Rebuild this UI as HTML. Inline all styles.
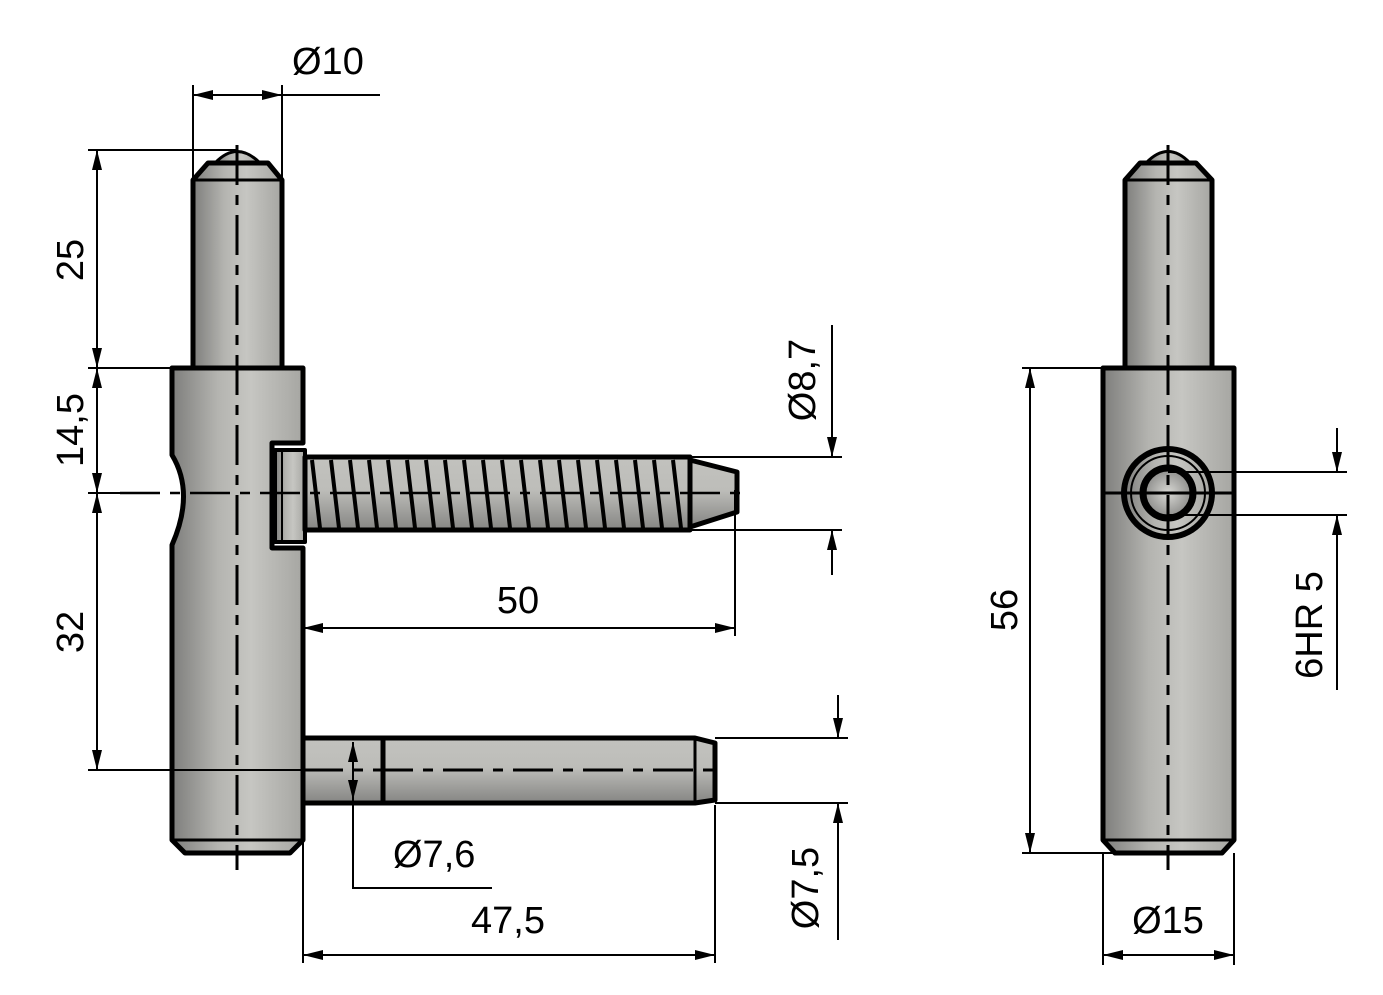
<!DOCTYPE html>
<html><head><meta charset="utf-8"><style>
html,body{margin:0;padding:0;background:#fff;}
svg{display:block;}
text{font-family:"Liberation Sans",sans-serif;font-size:38px;fill:#000;}
</style></head><body>
<svg width="1383" height="995" viewBox="0 0 1383 995" xmlns="http://www.w3.org/2000/svg">
<defs>
<linearGradient id="gv" x1="0" x2="1" y1="0" y2="0">
<stop offset="0" stop-color="#7e7e7c"/><stop offset="0.35" stop-color="#b4b4b0"/><stop offset="0.6" stop-color="#c6c6c2"/><stop offset="1" stop-color="#a6a6a2"/></linearGradient>
<linearGradient id="gh" x1="0" x2="0" y1="0" y2="1">
<stop offset="0" stop-color="#c2c2be"/><stop offset="0.45" stop-color="#bdbdb9"/><stop offset="1" stop-color="#858583"/></linearGradient>
<radialGradient id="gr"><stop offset="0" stop-color="#d8d8d4"/><stop offset="1" stop-color="#8a8a88"/></radialGradient>
<marker id="a" viewBox="0 0 20 10" refX="20" refY="5" markerWidth="20" markerHeight="10" markerUnits="userSpaceOnUse" orient="auto-start-reverse"><path d="M0,0 L20,5 L0,10 z" fill="#000"/></marker>
</defs>

<g stroke="#000" stroke-width="5" stroke-linejoin="round">
<path d="M215,163 Q237,140 260,163 Z" fill="url(#gv)" stroke-width="3"/>
<path d="M193,180 L208,163 L268,163 L282,180 L282,368 L193,368 Z" fill="url(#gv)"/>
<line x1="193" y1="180" x2="282" y2="180" stroke-width="3"/>
<path d="M172,368 L303,368 L303,443 L272,443 L272,548 L303,548 L303,840 L290,853 L185,853 L172,840 L172,545 Q195,493 172,455 Z" fill="url(#gv)"/>
<line x1="172" y1="840" x2="303" y2="840" stroke-width="3"/>
<rect x="275" y="450" width="30" height="92" fill="url(#gv)" stroke-width="4"/>
<line x1="282" y1="452" x2="282" y2="540" stroke-width="2"/>
<path d="M305,457 L690,457 L690,530 L305,530 Z" fill="url(#gh)"/>
<path d="M690,460 L737,472 L737,512 L690,527 Z" fill="url(#gh)"/>
<g stroke-width="4">
<path d="M312,460l8,68M331,460l8,68M350,460l8,68M369,460l8,68M388,460l8,68M407,460l8,68M426,460l8,68M445,460l8,68M464,460l8,68M483,460l8,68M502,460l8,68M521,460l8,68M540,460l8,68M559,460l8,68M578,460l8,68M597,460l8,68M616,460l8,68M635,460l8,68M654,460l8,68M673,460l8,68M690,460l0,68"/>
</g>
<path d="M303,738 L695,738 L715,743 L715,800 L695,803 L303,803 Z" fill="url(#gh)"/>
<line x1="383" y1="738" x2="383" y2="803"/>
<line x1="695" y1="738" x2="695" y2="803" stroke-width="3"/>

<path d="M1146,163 Q1168,140 1190,163 Z" fill="url(#gv)" stroke-width="3"/>
<path d="M1125,180 L1140,163 L1196,163 L1212,180 L1212,368 L1125,368 Z" fill="url(#gv)"/>
<line x1="1125" y1="180" x2="1212" y2="180" stroke-width="3"/>
<path d="M1103,368 L1234,368 L1234,840 L1222,853 L1115,853 L1103,840 Z" fill="url(#gv)"/>
<line x1="1103" y1="840" x2="1234" y2="840" stroke-width="3"/>
<circle cx="1168" cy="493" r="44" fill="url(#gv)" stroke-width="6"/>
<circle cx="1168" cy="493" r="37" fill="none" stroke-width="2"/>
<circle cx="1168" cy="493" r="25" fill="url(#gr)" stroke-width="7"/>
</g>

<g stroke="#000" stroke-width="3" fill="none" stroke-dasharray="40,10,10,10">
<line x1="237" y1="145" x2="237" y2="870"/>
<line x1="1168" y1="145" x2="1168" y2="870"/>
<line x1="303" y1="770" x2="720" y2="770"/>
</g>
<g stroke="#000" stroke-width="2.5" fill="none" stroke-dasharray="40,10,10,10">
<line x1="120" y1="493" x2="750" y2="493"/>
</g>

<g stroke="#000" stroke-width="2" fill="none">
<line x1="193" y1="85" x2="193" y2="180"/><line x1="282" y1="85" x2="282" y2="180"/>
<line x1="193" y1="95" x2="282" y2="95" marker-start="url(#a)" marker-end="url(#a)"/><line x1="282" y1="95" x2="380" y2="95"/>

<line x1="88" y1="150" x2="237" y2="150"/><line x1="88" y1="368" x2="172" y2="368"/>
<line x1="88" y1="493" x2="120" y2="493"/><line x1="88" y1="770" x2="303" y2="770"/>
<line x1="97" y1="150" x2="97" y2="368" marker-start="url(#a)" marker-end="url(#a)"/>
<line x1="97" y1="368" x2="97" y2="493" marker-start="url(#a)" marker-end="url(#a)"/>
<line x1="97" y1="493" x2="97" y2="770" marker-start="url(#a)" marker-end="url(#a)"/>

<line x1="690" y1="457" x2="842" y2="457"/><line x1="690" y1="530" x2="842" y2="530"/>
<line x1="832" y1="325" x2="832" y2="457" marker-end="url(#a)"/><line x1="832" y1="575" x2="832" y2="530" marker-end="url(#a)"/>

<line x1="735" y1="490" x2="735" y2="636"/>
<line x1="303" y1="628" x2="735" y2="628" marker-start="url(#a)" marker-end="url(#a)"/>

<line x1="353" y1="742" x2="353" y2="800" marker-start="url(#a)" marker-end="url(#a)"/>
<polyline points="353,800 353,888 492,888"/>

<line x1="303" y1="803" x2="303" y2="963"/><line x1="715" y1="805" x2="715" y2="963"/>
<line x1="303" y1="955" x2="715" y2="955" marker-start="url(#a)" marker-end="url(#a)"/>

<line x1="715" y1="738" x2="848" y2="738"/><line x1="715" y1="803" x2="848" y2="803"/>
<line x1="838" y1="695" x2="838" y2="738" marker-end="url(#a)"/><line x1="838" y1="940" x2="838" y2="803" marker-end="url(#a)"/>

<line x1="1022" y1="368" x2="1103" y2="368"/><line x1="1022" y1="853" x2="1115" y2="853"/>
<line x1="1030" y1="368" x2="1030" y2="853" marker-start="url(#a)" marker-end="url(#a)"/>

<line x1="1168" y1="472" x2="1347" y2="472"/><line x1="1168" y1="515" x2="1347" y2="515"/>
<line x1="1337" y1="428" x2="1337" y2="472" marker-end="url(#a)"/><line x1="1337" y1="690" x2="1337" y2="515" marker-end="url(#a)"/>

<line x1="1103" y1="853" x2="1103" y2="965"/><line x1="1234" y1="853" x2="1234" y2="965"/>
<line x1="1103" y1="955" x2="1234" y2="955" marker-start="url(#a)" marker-end="url(#a)"/>
<line x1="1105" y1="493" x2="1232" y2="493" stroke-width="3"/>
</g>

<text x="292" y="74">Ø10</text>
<text transform="translate(83,260) rotate(-90)" text-anchor="middle">25</text>
<text transform="translate(83,430) rotate(-90)" text-anchor="middle">14,5</text>
<text transform="translate(83,632) rotate(-90)" text-anchor="middle">32</text>
<text transform="translate(815,380) rotate(-90)" text-anchor="middle">Ø8,7</text>
<text x="518" y="613" text-anchor="middle">50</text>
<text x="393" y="867">Ø7,6</text>
<text x="508" y="933" text-anchor="middle">47,5</text>
<text transform="translate(818,888) rotate(-90)" text-anchor="middle">Ø7,5</text>
<text transform="translate(1017,610) rotate(-90)" text-anchor="middle">56</text>
<text transform="translate(1322,625) rotate(-90)" text-anchor="middle">6HR 5</text>
<text x="1168" y="933" text-anchor="middle">Ø15</text>
</svg>
</body></html>
